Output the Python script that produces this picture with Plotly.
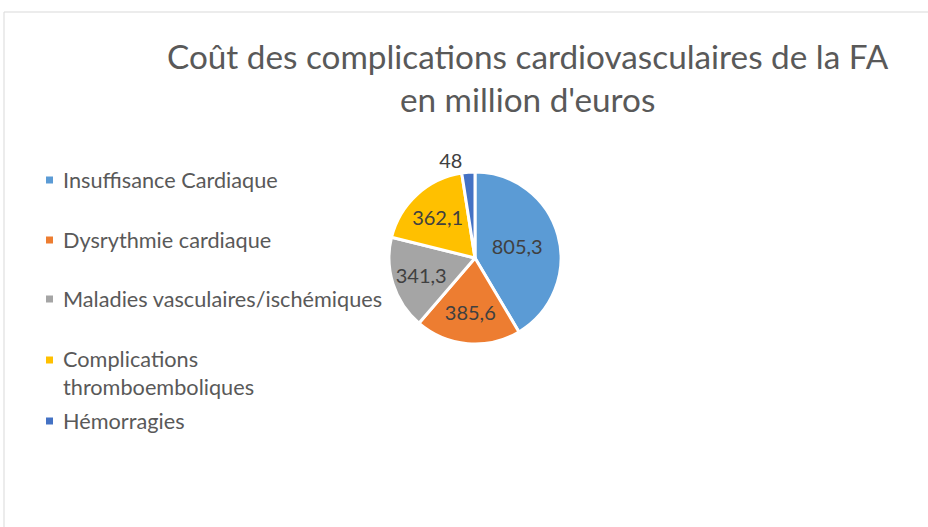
import plotly.graph_objects as go

categories = ["Insuffisance Cardiaque", "Dysrythmie cardiaque", "Maladies vasculaires/ischémiques",
              "Complications<br>thromboemboliques", "Hémorragies"]
values = [805.3, 385.6, 341.3, 362.1, 48]
colors = ["#5B9BD5", "#ED7D31", "#A5A5A5", "#FFC000", "#4472C4"]
title_text = "Coût des complications cardiovasculaires de la FA<br>en million d'euros"

W, H = 928, 527
FONT = "Lato"

fig = go.Figure()
cx, cy, r = 475, 258, 86
fig.add_trace(go.Pie(
    labels=[c.replace("<br>", " ") for c in categories], values=values,
    marker=dict(colors=colors, line=dict(color="white", width=3)),
    sort=False, direction="clockwise", rotation=0,
    textinfo="value",
    textposition=["inside", "inside", "inside", "inside", "outside"],
    insidetextorientation="horizontal",
    textfont=dict(family=FONT, size=20, color="#404040"),
    domain=dict(x=[(cx - r) / W, (cx + r) / W], y=[(H - cy - r) / H, (H - cy + r) / H]),
    showlegend=False, hoverinfo="label+value",
))

# manual legend
legend_y = [180, 240, 299, 373, 421]
annotations = []
shapes = []
for cat, col, yy in zip(categories, colors, legend_y):
    annotations.append(dict(x=61 / W, y=1 - yy / H, xref="paper", yref="paper", xanchor="left", yanchor="middle",
                            text=cat, showarrow=False, align="left",
                            font=dict(family=FONT, size=21.7, color="#595959")))
    my = yy if "<br>" not in cat else yy - 13
    shapes.append(dict(type="rect", xref="paper", yref="paper",
                       x0=46 / W, x1=53 / W, y0=1 - (my + 3.5) / H, y1=1 - (my - 3.5) / H,
                       fillcolor=col, line=dict(width=0)))

annotations.append(dict(x=528 / W, y=1 - 78 / H, xref="paper", yref="paper", xanchor="center", yanchor="middle",
                        text=title_text, showarrow=False, align="center",
                        font=dict(family=FONT, size=33.3, color="#595959")))

shapes.append(dict(type="rect", xref="paper", yref="paper", x0=4 / W, x1=1.05, y0=-0.05, y1=1 - 12 / H,
                   line=dict(color="#D9D9D9", width=1), fillcolor="rgba(0,0,0,0)"))

fig.update_layout(
    width=W, height=H, margin=dict(l=0, r=0, t=0, b=0),
    paper_bgcolor="white", plot_bgcolor="white",
    separators=", ",
    annotations=annotations, shapes=shapes,
    font=dict(family=FONT),
)
fig.write_html("out.html", config={"displayModeBar": False},
               post_script="document.body.style.margin='0';document.body.style.overflow='hidden';")
